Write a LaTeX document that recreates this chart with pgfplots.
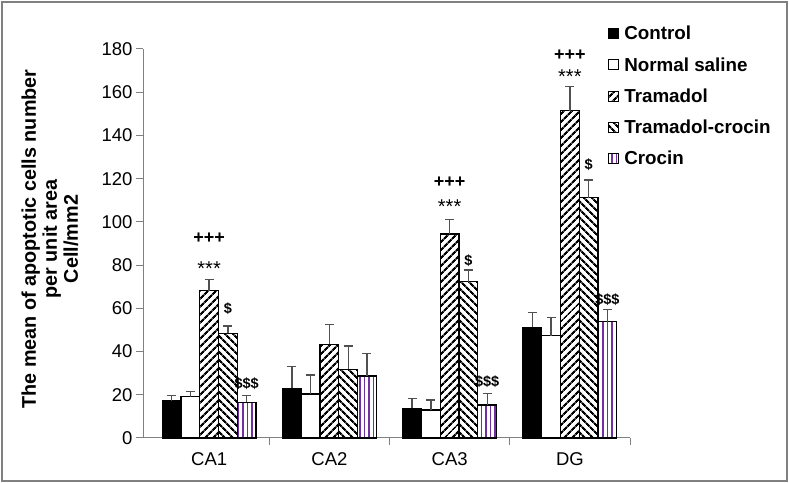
\documentclass[border=0pt]{standalone}
\usepackage{fontspec}
\setmainfont{Liberation Sans}
\usepackage{pgfplots}
\pgfplotsset{compat=1.18}
\usepackage{pgfplotstable}
\usetikzlibrary{patterns.meta}
\definecolor{axgray}{HTML}{808080}
\definecolor{errgray}{HTML}{505050}
\definecolor{croc}{HTML}{7030A0}

\pgfplotstableread{
x y e
0 17.3 2.4
1 23.0 10.0
2 13.7 4.6
3 51.2 6.8
}\control
\pgfplotstableread{
x y e
0 19.1 2.3
1 20.4 8.8
2 13.0 4.6
3 47.4 8.5
}\saline
\pgfplotstableread{
x y e
0 68.2 5.3
1 43.3 9.3
2 94.4 6.8
3 151.5 11.0
}\tramadol
\pgfplotstableread{
x y e
0 48.4 3.4
1 31.8 10.8
2 72.3 5.4
3 111.2 8.2
}\tramcroc
\pgfplotstableread{
x y e
0 16.5 3.2
1 28.7 10.5
2 15.3 5.4
3 53.8 5.7
}\crocin

\begin{document}
\begin{tikzpicture}[x=1bp,y=1bp]
\useasboundingbox (0,0) rectangle (789,483);
\draw[axgray, line width=2bp] (2,2) rectangle (787,481);
\begin{axis}[
  at={(143bp,45bp)}, anchor=south west,
  scale only axis, width=487bp, height=389bp,
  xmin=-0.55, xmax=3.5, ymin=0, ymax=180,
  axis x line*=bottom, axis y line*=left,
  axis line style={axgray, line width=1bp},
  tick style={axgray, line width=1bp},
  tick align=outside,
  major tick length=7bp,
  ytick={0,20,...,180},
  xtick={0.5,1.5,2.5,3.5}, xticklabels={},
  extra x ticks={0,1,2,3},
  extra x tick labels={CA1,CA2,CA3,DG},
  extra x tick style={major tick length=0pt, xticklabel style={yshift=-11bp}},
  tick label style={font=\fontsize{18.5bp}{20bp}\selectfont, black},
  /pgf/number format/assume math mode=true,
  ybar, bar width=0.156,
  every axis plot/.append style={draw=black, line width=1.2bp},
  error bars/error mark=-,
  error bars/error bar style={errgray, line width=1.3bp},
  error bars/error mark options={errgray, line width=1.3bp, mark size=4.5bp, rotate=90},
  legend style={at={(axis description cs:0.955,1.064)}, anchor=north west,
    draw=none, fill=none, font=\bfseries\fontsize{18.8bp}{22bp}\selectfont,
    row sep=12bp, inner sep=0pt, nodes={inner xsep=5bp}},
  legend cell align=left,
  legend image code/.code={\draw[#1, line width=1bp] (0bp,-5bp) rectangle (10bp,5bp);},
  clip=false,
]
\addplot[fill=black, bar shift=-0.312, error bars/.cd, y dir=plus, y explicit]
  table[x=x, y=y, y error=e]{\control};
\addplot[fill=white, bar shift=-0.156, error bars/.cd, y dir=plus, y explicit]
  table[x=x, y=y, y error=e]{\saline};
\addplot[pattern={Lines[angle=45, distance=6bp, line width=2.5bp]}, bar shift=0, error bars/.cd, y dir=plus, y explicit]
  table[x=x, y=y, y error=e]{\tramadol};
\addplot[pattern={Lines[angle=-45, distance=6bp, line width=2.5bp]}, bar shift=0.156, error bars/.cd, y dir=plus, y explicit]
  table[x=x, y=y, y error=e]{\tramcroc};
\addplot[fill=white, postaction={pattern={Lines[angle=90, distance=4.5bp, line width=1.6bp]}, pattern color=croc}, bar shift=0.312, error bars/.cd, y dir=plus, y explicit]
  table[x=x, y=y, y error=e]{\crocin};
\legend{Control, Normal saline, Tramadol, Tramadol-crocin, Crocin}

\node[font=\bfseries\fontsize{18bp}{20bp}\selectfont, anchor=base] at (axis cs:0,90.2) {+++};
\node[font=\fontsize{20bp}{20bp}\selectfont, anchor=base] at (axis cs:0,75) {***};
\node[font=\bfseries\fontsize{14.5bp}{16bp}\selectfont, anchor=base] at (axis cs:0.156,57.6) {\$};
\node[font=\bfseries\fontsize{14.5bp}{16bp}\selectfont, anchor=base] at (axis cs:0.312,22.9) {\$\$\$};

\node[font=\bfseries\fontsize{18bp}{20bp}\selectfont, anchor=base] at (axis cs:2,115.7) {+++};
\node[font=\fontsize{20bp}{20bp}\selectfont, anchor=base] at (axis cs:2,103.7) {***};
\node[font=\bfseries\fontsize{14.5bp}{16bp}\selectfont, anchor=base] at (axis cs:2.156,79.8) {\$};
\node[font=\bfseries\fontsize{14.5bp}{16bp}\selectfont, anchor=base] at (axis cs:2.312,23.8) {\$\$\$};

\node[font=\bfseries\fontsize{18bp}{20bp}\selectfont, anchor=base] at (axis cs:3,174.5) {+++};
\node[font=\fontsize{20bp}{20bp}\selectfont, anchor=base] at (axis cs:3,163.8) {***};
\node[font=\bfseries\fontsize{14.5bp}{16bp}\selectfont, anchor=base] at (axis cs:3.156,124.2) {\$};
\node[font=\bfseries\fontsize{14.5bp}{16bp}\selectfont, anchor=base] at (axis cs:3.312,61.8) {\$\$\$};
\end{axis}
\node[rotate=90, align=center, font=\bfseries\fontsize{19.8bp}{21bp}\selectfont] at (50,244)
  {The mean of apoptotic cells number\\per unit area\\Cell/mm2};
\end{tikzpicture}
\end{document}
